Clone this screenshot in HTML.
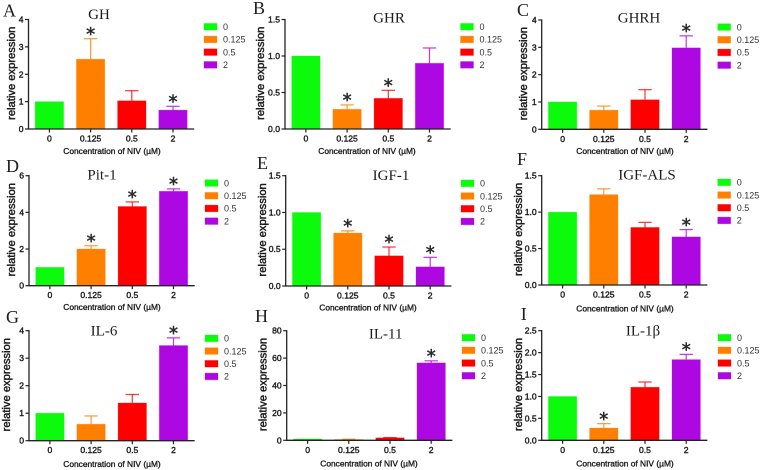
<!DOCTYPE html>
<html>
<head>
<meta charset="utf-8">
<style>
html,body{margin:0;padding:0;background:#fff;}
svg{display:block;filter:blur(0.35px);}
text{fill:#1c1c1c;}
.tick{font:8.6px "Liberation Sans",sans-serif;stroke:#1c1c1c;stroke-width:0.4px;}
.xt{font:8.4px "Liberation Sans",sans-serif;stroke:#1c1c1c;stroke-width:0.35px;}
.yt{font:11.2px "Liberation Sans",sans-serif;stroke:#1c1c1c;stroke-width:0.45px;}
.lg{font:9px "Liberation Sans",sans-serif;fill:#333;}
.ttl{font:15px "Liberation Serif",serif;}
.ltr{font:18px "Liberation Serif",serif;}
.star{font:18px "DejaVu Sans",sans-serif;fill:#2a2a2a;stroke:#2a2a2a;stroke-width:0.5px;}
</style>
</head>
<body>
<svg id="fig" width="760" height="470" viewBox="0 0 760 470" xmlns="http://www.w3.org/2000/svg"></svg>
<script>
const categories = ['0', '0.125', '0.5', '2'];
const barColors = ['#0cfb0c', '#ff8000', '#ff0000', '#ae08e2'];
const panelLetters = ['A', 'B', 'C', 'D', 'E', 'F', 'G', 'H', 'I'];
const panelTitles = ['GH', 'GHR', 'GHRH', 'Pit-1', 'IGF-1', 'IGF-ALS', 'IL-6', 'IL-11', 'IL-1β'];
const yTickLabels = [
  ['0', '1', '2', '3', '4'],
  ['0.0', '0.5', '1.0', '1.5'],
  ['0', '1', '2', '3', '4'],
  ['0', '2', '4', '6'],
  ['0.0', '0.5', '1.0', '1.5'],
  ['0.0', '0.5', '1.0', '1.5'],
  ['0', '1', '2', '3', '4'],
  ['0', '20', '40', '60', '80'],
  ['0.0', '0.5', '1.0', '1.5', '2.0', '2.5']
];
const barValues = [
  [1, 2.55, 1.03, 0.69],
  [1, 0.27, 0.42, 0.9],
  [1, 0.7, 1.08, 2.98],
  [1, 2, 4.32, 5.15],
  [1, 0.72, 0.41, 0.26],
  [1, 1.24, 0.79, 0.66],
  [1, 0.6, 1.37, 3.46],
  [1, 0.6, 1.8, 56.5],
  [1, 0.28, 1.21, 1.84]
];
const errorTops = [
  [1, 3.3, 1.4, 0.83],
  [1, 0.33, 0.53, 1.11],
  [1, 0.85, 1.45, 3.42],
  [1, 2.18, 4.57, 5.28],
  [1, 0.75, 0.53, 0.39],
  [1, 1.32, 0.86, 0.76],
  [1, 0.9, 1.68, 3.74],
  [1, 0.8, 2, 58],
  [1, 0.38, 1.33, 1.96]
];
const significant = [
  [0, 1, 0, 1],
  [0, 1, 1, 0],
  [0, 0, 0, 1],
  [0, 1, 1, 1],
  [0, 1, 1, 1],
  [0, 0, 0, 1],
  [0, 0, 0, 1],
  [0, 0, 0, 1],
  [0, 1, 0, 1]
];

/* Page layout of each panel (separate from the data above). */
const frames = [
  {ax:28.5, top:19.5, base:129, lgx:204, lgy:23.4, tx:99, ty:19, lx:3, ly:16.5, ytx:11, xtx:112, xty:154},
  {ax:285, top:19.5, base:129, lgx:460.5, lgy:23.4, tx:389, ty:22.5, lx:253, ly:14, ytx:260, xtx:367, xty:154},
  {ax:541.7, top:20, base:129.3, lgx:717.7, lgy:23.7, tx:639, ty:22.5, lx:517, ly:16, ytx:523, xtx:625, xty:154},
  {ax:29, top:175.7, base:285.7, lgx:205, lgy:179.7, tx:102, ty:179.5, lx:6, ly:172, ytx:11, xtx:112, xty:310},
  {ax:285.7, top:175.7, base:286, lgx:461, lgy:180, tx:391, ty:180, lx:257, ly:169, ytx:262, xtx:368, xty:310.5},
  {ax:541.7, top:175.7, base:285, lgx:717.7, lgy:179, tx:647, ty:179.5, lx:517, ly:165, ytx:518, xtx:625, xty:311.5},
  {ax:29, top:330.7, base:440.7, lgx:205, lgy:335, tx:104, ty:335.7, lx:6, ly:323, ytx:6, xtx:112, xty:467},
  {ax:286.7, top:330.7, base:440.3, lgx:462, lgy:334.3, tx:385.7, ty:338.3, lx:255, ly:322, ytx:262.7, xtx:369, xty:466.5},
  {ax:541.7, top:330.7, base:440.3, lgx:718, lgy:334.3, tx:643, ty:335.3, lx:520.7, ly:320, ytx:518, xtx:625, xty:466.5}
];

const NS = 'http://www.w3.org/2000/svg';
const fig = document.getElementById('fig');

function make(parent, tag, attrs, txt) {
  const el = document.createElementNS(NS, tag);
  for (const k in attrs) el.setAttribute(k, attrs[k]);
  if (txt !== undefined) el.textContent = txt;
  parent.appendChild(el);
  return el;
}
function yScale(v, f, max) { return f.base - (v / max) * (f.base - f.top); }
function xScale(i, f) { return f.ax + 20.9 + i * 41.2; }

panelTitles.forEach(function (title, p) {
  const f = frames[p];
  const ticks = yTickLabels[p];
  const max = parseFloat(ticks[ticks.length - 1]);
  const axisEnd = f.ax + 165.7;

  const g = make(fig, 'g', {});
  
  

  const letter = make(g, 'text', {x: f.lx, y: f.ly, class: 'ltr'}, panelLetters[p]);
  
  

  const ttl = make(g, 'text', {x: f.tx, y: f.ty, class: 'ttl', 'text-anchor': 'middle'}, title);
  
  

  barValues[p].forEach(function (v, i) {
    const cx = xScale(i, f);
    const yv = yScale(v, f, max);
    const yt = yScale(errorTops[p][i], f, max);
    if (errorTops[p][i] > v) {
      const stem = make(g, 'line', {x1: cx, x2: cx, y1: yv, y2: yt, stroke: barColors[i], 'stroke-width': 1.2, 'stroke-opacity': 0.8});
      
      
      const cap = make(g, 'line', {x1: cx - 6.7, x2: cx + 6.7, y1: yt, y2: yt, stroke: barColors[i], 'stroke-width': 1.2, 'stroke-opacity': 0.8});
      
      
    }
    const bar = make(g, 'rect', {x: cx - 14.2, y: yv, width: 28.4, height: Math.max(f.base - yv, 0), fill: barColors[i], stroke: barColors[i], 'stroke-opacity': 0.35, 'stroke-width': 0.8});
    
    
    if (significant[p][i]) {
      const star = make(g, 'text', {x: cx, y: yt + 1.2, class: 'star', 'text-anchor': 'middle'}, '*');
      
      
    }
    const tk = make(g, 'line', {x1: cx, x2: cx, y1: f.base, y2: f.base + 3.5, stroke: '#222', 'stroke-width': 1.2});
    
    
    const lb = make(g, 'text', {x: cx, y: f.base + 12.5, class: 'tick', 'text-anchor': 'middle'}, categories[i]);
    
    
  });

  ticks.forEach(function (t) {
    const y = yScale(parseFloat(t), f, max);
    const tk = make(g, 'line', {x1: f.ax - 3.5, x2: f.ax, y1: y, y2: y, stroke: '#222', 'stroke-width': 1.2});
    
    
    const lb = make(g, 'text', {x: f.ax - 5, y: y + 3, class: 'tick', 'text-anchor': 'end'}, t);
    
    
  });

  const yAxis = make(g, 'line', {x1: f.ax, x2: f.ax, y1: f.top - 0.6, y2: f.base + 0.6, stroke: '#222', 'stroke-width': 1.3});
  
  
  const xAxis = make(g, 'line', {x1: f.ax, x2: axisEnd, y1: f.base, y2: f.base, stroke: '#222', 'stroke-width': 1.3});
  
  

  const xt = make(g, 'text', {x: f.xtx, y: f.xty, class: 'xt', 'text-anchor': 'middle'}, 'Concentration of NIV (µM)');
  
  

  const cy = (f.top + f.base) / 2 - 1;
  const yt = make(g, 'text', {x: 0, y: 0, class: 'yt', 'text-anchor': 'middle', transform: 'translate(' + (f.ytx + 4) + ',' + cy + ') rotate(-90)'}, 'relative expression');
  
  

  categories.forEach(function (c, i) {
    const y = f.lgy + i * 12.7;
    const sw = make(g, 'rect', {x: f.lgx, y: y, width: 13, height: 6.7, fill: barColors[i], stroke: barColors[i], 'stroke-opacity': 0.35, 'stroke-width': 0.8});
    
    
    const lb = make(g, 'text', {x: f.lgx + 19, y: y + 6.6, class: 'lg'}, c);
    
    
  });
});
</script>
</body>
</html>
